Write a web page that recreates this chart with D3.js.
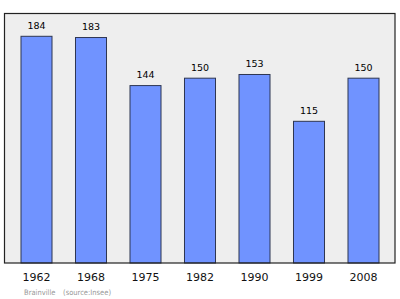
<!DOCTYPE html>
<html>
<head>
<meta charset="utf-8">
<script src="https://cdn.jsdelivr.net/npm/d3@7"></script>
<style>
  html, body { margin: 0; padding: 0; background: #fff; }
  svg { display: block; }
</style>
</head>
<body>
<svg id="chart" width="400" height="299"></svg>
<script>
// data
var years = ["1962", "1968", "1975", "1982", "1990", "1999", "2008"];
var population = [184, 183, 144, 150, 153, 115, 150];
var yMax = 202.5;
var commune = "Brainville";
var source = "(source:Insee)";

var frame = {left: 4.5, top: 13.5, right: 395, bottom: 263};

var svg = d3.select("#chart");

// plot background
svg.append("rect")
  .attr("x", frame.left)
  .attr("y", frame.top)
  .attr("width", frame.right - frame.left)
  .attr("height", frame.bottom - frame.top)
  .attr("fill", "#eeeeee");

var x = d3.scaleBand()
  .domain(years)
  .range([9.25, 390.75])
  .paddingInner(0.431)
  .paddingOuter(0.2155);

var y = d3.scaleLinear()
  .domain([0, yMax])
  .range([frame.bottom, frame.top]);

// bars
svg.append("g")
  .selectAll("rect")
  .data(population)
  .enter().append("rect")
    .attr("x", function(d, i) { return x(years[i]); })
    .attr("y", function(d) { return y(d); })
    .attr("width", x.bandwidth())
    .attr("height", function(d) { return y(0) - y(d); })
    .attr("fill", "#7093ff")
    .attr("stroke", "#2e3652")
    .attr("stroke-width", 1);

// value labels
svg.append("g")
  .selectAll("text")
  .data(population)
  .enter().append("text")
    .attr("x", function(d, i) { return x(years[i]) + x.bandwidth() / 2; })
    .attr("y", function(d) { return y(d) - 7.5; })
    .attr("text-anchor", "middle")
    .style("font", "9.5px 'DejaVu Sans'")
    .attr("fill", "#000")
    .text(function(d) { return d; });

// frame
svg.append("rect")
  .attr("x", frame.left)
  .attr("y", frame.top)
  .attr("width", frame.right - frame.left)
  .attr("height", frame.bottom - frame.top)
  .attr("fill", "none")
  .attr("stroke", "#222")
  .attr("stroke-width", 1.2);

// x axis labels
var xAxis = d3.axisBottom(x).tickSize(0).tickPadding(10);
var gx = svg.append("g")
  .attr("transform", "translate(0," + frame.bottom + ")")
  .call(xAxis);
gx.select(".domain").remove();
gx.selectAll("text")
  .attr("dy", null)
  .attr("y", 18)
  .style("font", "11px 'DejaVu Sans'")
  .attr("fill", "#111");

// footer
svg.append("text")
  .attr("x", 24)
  .attr("y", 295)
  .style("font", "7.5px 'DejaVu Sans Condensed', 'DejaVu Sans'")
  .attr("fill", "#999")
  .text(commune);

svg.append("text")
  .attr("x", 63)
  .attr("y", 295)
  .style("font", "7.5px 'DejaVu Sans Condensed', 'DejaVu Sans'")
  .attr("fill", "#999")
  .text(source);
</script>
</body>
</html>
